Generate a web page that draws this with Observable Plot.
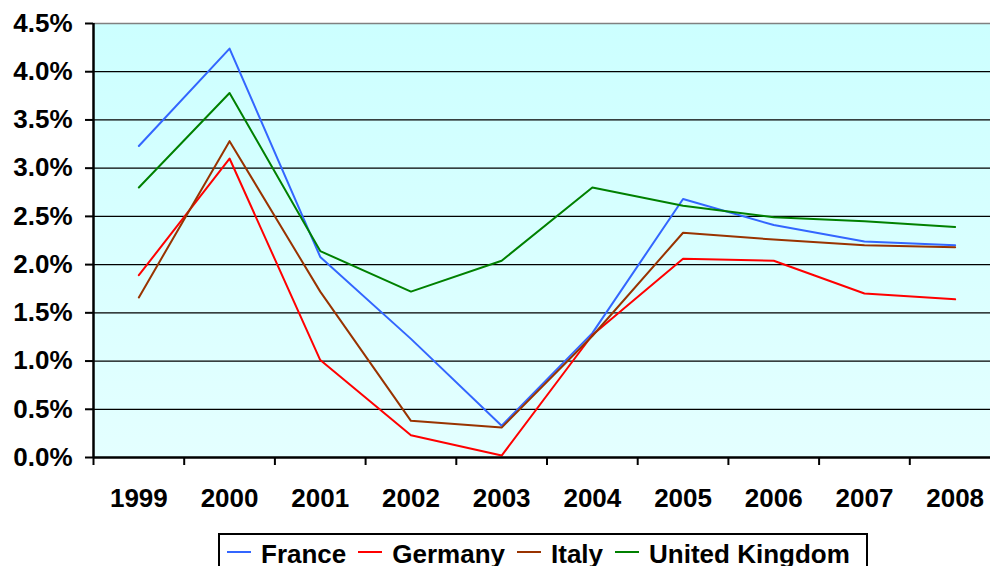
<!DOCTYPE html>
<html>
<head>
<meta charset="utf-8">
<script src="https://cdn.jsdelivr.net/npm/d3@7"></script>
<script src="https://cdn.jsdelivr.net/npm/@observablehq/plot@0.6"></script>
<style>
  html, body { margin: 0; padding: 0; background: #fff; overflow: hidden; width: 990px; height: 566px; }
  #chart { position: absolute; left: 0; top: 0; width: 1003px; }
  #chart svg { display: block; max-width: none; }
  .legend {
    position: absolute; left: 218px; top: 533px; height: 60px;
    box-sizing: border-box; border: 2px solid #000; background: #fff;
    padding: 4px 16px 0 7px; white-space: nowrap;
    font: bold 26px "Liberation Sans", Arial, sans-serif; line-height: 30px; color: #000;
  }
  .legend .item { display: inline-block; margin-right: 12px; }
  .legend .item:last-child { margin-right: 0; }
  .legend .swatch { display: inline-block; width: 24px; height: 2px; vertical-align: 10px; margin-right: 10px; }
</style>
</head>
<body>
<div id="chart"></div>
<div class="legend" id="legend"></div>
<script>
// Annual inflation rate (%), 1999–2008
const years = [1999, 2000, 2001, 2002, 2003, 2004, 2005, 2006, 2007, 2008];
const countries = ["France", "Germany", "Italy", "United Kingdom"];
const colors = ["#3366ff", "#ff0000", "#993300", "#008000"];
const france  = [3.23, 4.24, 2.08, 1.23, 0.33, 1.29, 2.68, 2.41, 2.24, 2.20];
const germany = [1.89, 3.10, 1.01, 0.23, 0.02, 1.27, 2.06, 2.04, 1.70, 1.64];
const italy   = [1.66, 3.28, 1.72, 0.38, 0.31, 1.26, 2.33, 2.26, 2.20, 2.18];
const uk      = [2.80, 3.78, 2.14, 1.72, 2.04, 2.80, 2.61, 2.49, 2.45, 2.39];
const yTicks = [0, 0.5, 1.0, 1.5, 2.0, 2.5, 3.0, 3.5, 4.0, 4.5];

const seriesValues = [france, germany, italy, uk];
const rows = countries.flatMap((c, i) =>
  years.map((yr, j) => ({country: c, year: yr, value: seriesValues[i][j]}))
);
// category boundaries, where the x-axis tick marks sit
const bounds = [years[0] - 0.5, ...years.map(y => y + 0.5)];

const font = "'Liberation Sans', Arial, sans-serif";

const chart = Plot.plot({
  width: 1003,
  height: 530,
  marginLeft: 93,
  marginRight: 3,
  marginTop: 23,
  marginBottom: 73,
  style: {fontFamily: font, background: "transparent", overflow: "visible", maxWidth: "none"},
  x: {type: "linear", domain: [bounds[0], bounds[bounds.length - 1]]},
  y: {domain: [0, 4.5]},
  color: {domain: countries, range: colors},
  marks: [
    Plot.frame({fill: "url(#plotbg)", stroke: "none"}),
    Plot.ruleY(yTicks.slice(1, -1), {stroke: "#000", strokeWidth: 1.2}),
    Plot.ruleY([4.5], {stroke: "#808080", strokeWidth: 1.5}),
    Plot.line(rows, {x: "year", y: "value", z: "country", stroke: "country", strokeWidth: 2}),
    Plot.ruleX([bounds[0]], {stroke: "#000", strokeWidth: 2.5}),
    Plot.ruleY([0], {stroke: "#000", strokeWidth: 2.5}),
    Plot.axisY({
      ticks: yTicks, tickSize: 8, tickPadding: 13, strokeWidth: 2,
      tickFormat: d => d.toFixed(1) + "%", label: null,
      fontSize: 26, fontWeight: "bold", fill: "#000"
    }),
    Plot.axisX({ticks: bounds, tickSize: 8, strokeWidth: 2, tickFormat: () => "", label: null}),
    Plot.axisX({
      ticks: years, tickSize: 0, tickPadding: 31,
      tickFormat: d => String(d), label: null,
      fontSize: 26, fontWeight: "bold", fill: "#000"
    })
  ]
});

// vertical pale-cyan gradient behind the plot area
d3.select(chart).insert("defs", ":first-child").html(
  `<linearGradient id="plotbg" x1="0" y1="0" x2="0" y2="1">
     <stop offset="0" stop-color="#ccffff"/>
     <stop offset="1" stop-color="#e4ffff"/>
   </linearGradient>`
);
document.getElementById("chart").appendChild(chart);

const legend = document.getElementById("legend");
countries.forEach((c, i) => {
  const item = document.createElement("span");
  item.className = "item";
  const sw = document.createElement("span");
  sw.className = "swatch";
  sw.style.background = colors[i];
  item.appendChild(sw);
  item.appendChild(document.createTextNode(c));
  legend.appendChild(item);
});
</script>
</body>
</html>
